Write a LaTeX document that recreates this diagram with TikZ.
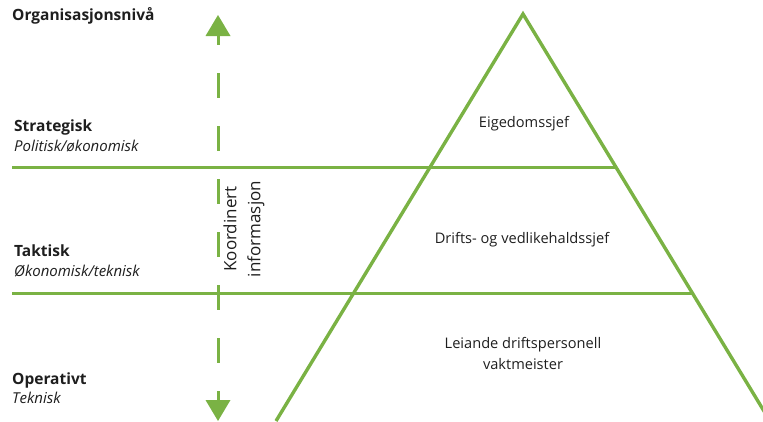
\documentclass[tikz,border=0pt]{standalone}
\usepackage{fontspec}
\setmainfont{Open Sans}
\usetikzlibrary{calc}
\definecolor{levelgreen}{RGB}{122,178,68}
\definecolor{inktext}{RGB}{30,30,30}
\tikzset{
  level line/.style={draw=levelgreen, line width=3pt},
  pyramid/.style={draw=levelgreen, line width=3.4pt, line join=miter},
  headtxt/.style={anchor=west, text=inktext, font=\fontsize{15.5}{17}\selectfont\bfseries, inner sep=0pt},
  subtxt/.style={anchor=west, text=inktext, font=\fontsize{15}{17}\selectfont\itshape, inner sep=0pt},
  rolelabel/.style={align=center, text=inktext, font=\fontsize{14.6}{21}\selectfont, inner sep=0pt},
  flowline/.style={draw=levelgreen, line width=3pt, dash pattern=on 25pt off 28pt},
  flowhead/.style={fill=levelgreen, draw=none}
}
\begin{document}
\begin{tikzpicture}[x=1pt, y=-1pt]
  \useasboundingbox (0,0) rectangle (763,421);
  \begin{scope}
    \clip (0,0) rectangle (763,421);
    % level boundaries
    \coordinate (s1w) at (12,167);
    \coordinate (s1e) at (615,167);
    \coordinate (s2w) at (12,293);
    \coordinate (s2e) at (694,293);
    \draw[level line] (s1w) -- (s1e);
    \draw[level line] (s2w) -- (s2e);
    % pyramid
    \coordinate (apex) at (523,14);
    \coordinate (baseL) at (276,421);
    \coordinate (baseR) at (770,421);
    \draw[pyramid] (baseL) -- (apex) -- (baseR);
  \end{scope}

  % information flow arrow
  \coordinate (ftop) at (218,20);
  \coordinate (fbot) at (218,416);
  \draw[flowline] (ftop) -- (fbot);
  \fill[flowhead] (218,15) -- (230.5,36) -- (205.5,36) -- cycle;
  \fill[flowhead] (218,421) -- (230.5,400) -- (205.5,400) -- cycle;
  \node[rotate=90, align=center, text=inktext, font=\fontsize{17}{24}\selectfont, inner sep=0pt] (info) at (244,229) {Koordinert\\informasjon};

  % level names
  \node[headtxt] (org) at (12,16) {Organisasjonsnivå};
  \node[headtxt] (strat) at (14,127) {Strategisk};
  \node[subtxt] (stratsub) at (14,146) {Politisk/økonomisk};
  \node[headtxt] (takt) at (14,251) {Taktisk};
  \node[subtxt] (taktsub) at (14,271) {Økonomisk/teknisk};
  \node[headtxt] (oper) at (12,380) {Operativt};
  \node[subtxt] (opersub) at (12,398) {Teknisk};

  % roles inside the pyramid
  \node[rolelabel] (r1) at (524,124) {Eigedomssjef};
  \node[rolelabel] (r2) at (522,240) {Drifts- og vedlikehaldssjef};
  \node[rolelabel] (r3) at (523,353) {Leiande driftspersonell\\vaktmeister};
\end{tikzpicture}
\end{document}
